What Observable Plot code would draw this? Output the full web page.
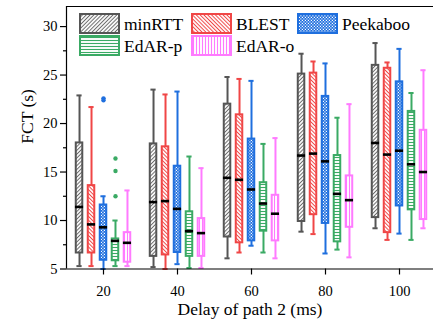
<!DOCTYPE html>
<html><head><meta charset="utf-8">
<script src="https://cdn.jsdelivr.net/npm/d3@7"></script>
<script src="https://cdn.jsdelivr.net/npm/@observablehq/plot@0.6"></script>
<style>
body{margin:0;background:#fff;overflow:hidden}
#wrap{position:relative;width:433px;height:329px}
#wrap svg text{font-family:"Liberation Serif","Times New Roman",serif}
#legend{position:absolute;left:0;top:0;pointer-events:none}
</style></head><body><div id="wrap"></div>
<script>
const delays = [20, 40, 60, 80, 100];
const series = ["minRTT", "BLEST", "Peekaboo", "EdAR-p", "EdAR-o"];
const colors = ["#555555", "#f04646", "#1f6fde", "#3aaa64", "#ff7aff"];
const yTicks = [5, 10, 15, 20, 25, 30];
const yMinorTicks = [7.5, 12.5, 17.5, 22.5, 27.5];
// each entry: [lower whisker, Q1, median, Q3, upper whisker], one per delay
const minRTT   = [[5.3,6.65,11.4,18.0,22.9],[5.2,6.3,11.9,17.9,23.5],[6.1,8.3,14.4,22.0,24.8],[8.85,9.9,16.7,25.1,27.2],[9.2,10.3,18.0,26.0,28.3]];
const BLEST    = [[5.3,6.65,9.6,13.6,21.7],[5.0,6.45,12.0,17.6,23.0],[6.7,7.7,14.2,20.9,24.6],[8.6,10.6,16.9,25.2,26.4],[8.0,8.75,16.8,25.7,26.3]];
const Peekaboo = [[5.0,5.9,9.3,11.6,12.5],[5.5,6.7,11.2,15.6,23.3],[7.4,7.9,13.2,18.4,24.4],[6.6,9.7,16.1,22.8,26.2],[8.65,11.5,17.2,24.3,27.7]];
const EdARp    = [[5.3,5.85,7.9,8.1,10.0],[5.1,6.3,8.9,10.9,16.6],[6.7,8.9,11.75,13.9,17.9],[7.0,7.8,12.75,16.7,20.6],[8.0,11.1,15.8,21.25,23.15]];
const EdARo    = [[5.3,5.7,7.7,8.75,13.1],[5.1,6.3,8.7,10.2,15.4],[6.1,7.9,10.7,12.6,18.5],[6.2,9.3,12.1,14.6,22.0],[9.2,10.1,15.0,19.3,25.5]];
const stats = [minRTT, BLEST, Peekaboo, EdARp, EdARo];
// outliers: [delay, value]
const peekabooOutliers = [[20, 22.6], [20, 22.4]];
const edarpOutliers = [[20, 16.4], [20, 15.1], [20, 12.5]];

const step = 3.24, boxHalf = 0.88, capHalf = 0.7, medHalf = 1.1;
const W = 433, H = 329, mL = 66, mT = 6, mB = 60.5;
const xMax = 10 + (W - mL) / 3.7;
const yMax = 32.07;

const rowsBy = stats.map((arr, si) => arr.map((v, di) => ({
  series: series[si], delay: delays[di], xc: delays[di] + (si - 2) * step,
  lo: v[0], q1: v[1], med: v[2], q3: v[3], hi: v[4]
})));

const marks = [];
rowsBy.forEach((rows, si) => {
  const c = colors[si];
  marks.push(Plot.ruleX(rows, {x: "xc", y1: "lo", y2: "q1", stroke: c, strokeWidth: 2}));
  marks.push(Plot.ruleX(rows, {x: "xc", y1: "q3", y2: "hi", stroke: c, strokeWidth: 2}));
  marks.push(Plot.ruleY(rows, {y: "lo", x1: d => d.xc - capHalf, x2: d => d.xc + capHalf, stroke: c, strokeWidth: 2}));
  marks.push(Plot.ruleY(rows, {y: "hi", x1: d => d.xc - capHalf, x2: d => d.xc + capHalf, stroke: c, strokeWidth: 2}));
  marks.push(Plot.rect(rows, {x1: d => d.xc - boxHalf, x2: d => d.xc + boxHalf, y1: "q1", y2: "q3", fill: `url(#pat${si})`, stroke: c, strokeWidth: 2}));
  marks.push(Plot.ruleY(rows, {y: "med", x1: d => d.xc - medHalf, x2: d => d.xc + medHalf, stroke: "black", strokeWidth: 2.6}));
});
marks.push(Plot.dot(peekabooOutliers, {x: d => d[0] + 0 * step, y: d => d[1], r: 2.2, fill: colors[2], stroke: "none"}));
marks.push(Plot.dot(edarpOutliers, {x: d => d[0] + 1 * step, y: d => d[1], r: 2.2, fill: colors[3], stroke: "none"}));

marks.push(Plot.ruleX([10], {stroke: "black", strokeWidth: 1.2}));
marks.push(Plot.ruleY([5], {stroke: "black", strokeWidth: 1.2}));
marks.push(Plot.ruleY([yMax], {stroke: "black", strokeWidth: 1.2}));
marks.push(Plot.axisX(delays, {tickSize: 6, tickPadding: 11, label: null, strokeWidth: 1.2, fontSize: 14.5}));
marks.push(Plot.axisY(yTicks, {tickSize: 6, tickPadding: 3, label: null, strokeWidth: 1.2, fontSize: 14.5}));
marks.push(Plot.axisY(yMinorTicks, {tickSize: 3, tickFormat: () => "", label: null, strokeWidth: 1.2}));
marks.push(Plot.text(["Delay of path 2 (ms)"], {frameAnchor: "bottom", dy: 46, fontSize: 17.5, fill: "black"}));
marks.push(Plot.text(["FCT (s)"], {frameAnchor: "left", dx: -39, dy: 6, rotate: -90, fontSize: 17.5, fill: "black"}));

const svg = Plot.plot({
  width: W, height: H,
  marginLeft: mL, marginRight: 0, marginTop: mT, marginBottom: mB,
  style: {fontFamily: "Liberation Serif", fontSize: "14px", color: "black", background: "white"},
  x: {domain: [10, xMax]},
  y: {domain: [5, yMax]},
  marks
});

// hatch patterns
const defs = d3.select(svg).insert("defs", ":first-child");
function hatch(id, color, rot, size, sw) {
  const p = defs.append("pattern").attr("id", id).attr("patternUnits", "userSpaceOnUse")
    .attr("width", size).attr("height", size).attr("patternTransform", `rotate(${rot})`);
  p.append("rect").attr("width", size).attr("height", size).attr("fill", "white");
  p.append("line").attr("x1", size / 2).attr("x2", size / 2).attr("y1", 0).attr("y2", size)
    .attr("stroke", color).attr("stroke-width", sw);
}
hatch("pat0", "#6a6a6a", 45, 2.7, 1.0);
hatch("pat1", colors[1], -45, 2.7, 1.0);
{
  const p = defs.append("pattern").attr("id", "pat2").attr("patternUnits", "userSpaceOnUse").attr("width", 3).attr("height", 3);
  p.append("rect").attr("width", 3).attr("height", 3).attr("fill", colors[2]);
  p.append("rect").attr("x", 0.3).attr("y", 0.3).attr("width", 1.2).attr("height", 1.2).attr("fill", "white");
  p.append("rect").attr("x", 1.8).attr("y", 1.8).attr("width", 1.2).attr("height", 1.2).attr("fill", "white");
}
hatch("pat3", colors[3], 90, 3.0, 1.1);
hatch("pat4", colors[4], 0, 3.0, 1.1);

const wrap = document.getElementById("wrap");
wrap.appendChild(svg);

// legend overlay
const lg = d3.select(wrap).append("svg").attr("id", "legend").attr("width", W).attr("height", 62);
const colX = [80, 192, 298], rowY = [14, 36];
series.forEach((s, i) => {
  const x = colX[i % 3], y = rowY[Math.floor(i / 3)];
  lg.append("rect").attr("x", x).attr("y", y).attr("width", 39).attr("height", 19)
    .attr("fill", `url(#pat${i})`).attr("stroke", colors[i]).attr("stroke-width", 2);
  lg.append("text").attr("x", x + 44).attr("y", y + 15.5).attr("font-size", 17.5)
    .attr("fill", "black").text(s);
});
</script></body></html>
